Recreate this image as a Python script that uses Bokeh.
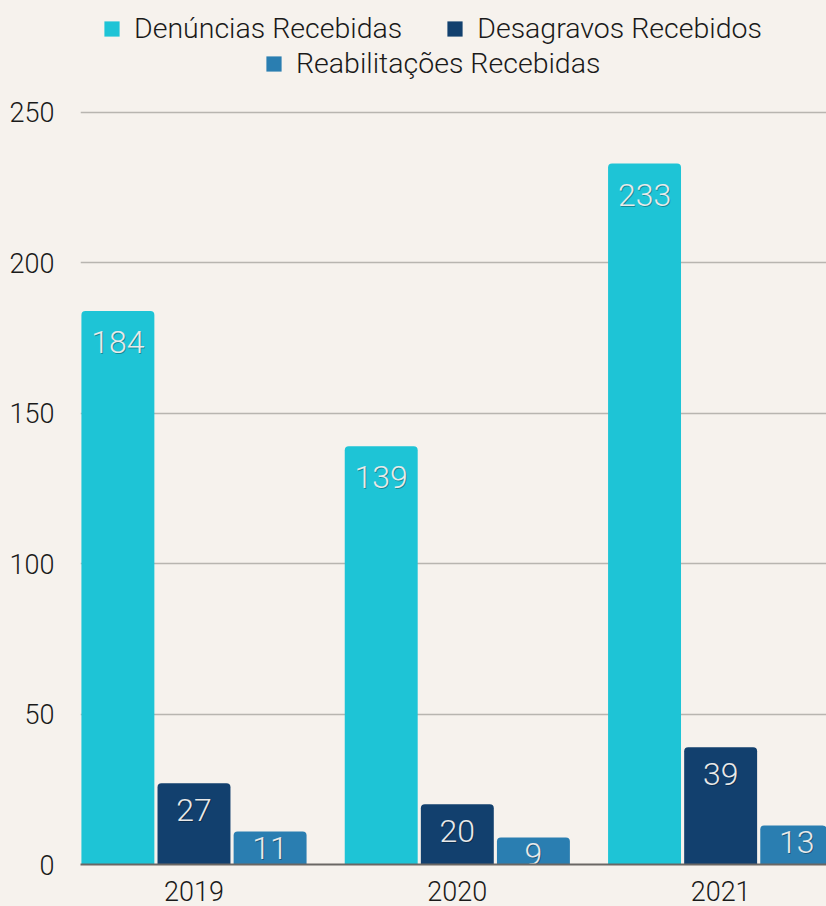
from bokeh.plotting import figure
from bokeh.models import Range1d, FixedTicker, Legend, LegendItem, ColumnDataSource
from bokeh.transform import dodge
from bokeh.embed import file_html
from bokeh.resources import INLINE
from bokeh.core.properties import value

# ---- data ----
years = ["2019", "2020", "2021"]
denuncias = [184, 139, 233]
desagravos = [27, 20, 39]
reabilitacoes = [11, 9, 13]
series_names = ["Denúncias Recebidas", "Desagravos Recebidos", "Reabilitações Recebidas"]
y_ticks = [0, 50, 100, 150, 200, 250]

# ---- style ----
colors = ["#1ec4d6", "#12406e", "#2a7eb1"]
label_offsets = [20, 16, 6]
BG = "#f6f2ed"
FONT = "Roboto Light, Roboto"
offsets = [-0.289, 0.0, 0.289]
bar_w = 0.277

pos = list(range(len(years)))
src = ColumnDataSource(dict(
    x=pos,
    s0=denuncias, s1=desagravos, s2=reabilitacoes,
    t0=[str(v) for v in denuncias],
    t1=[str(v) for v in desagravos],
    t2=[str(v) for v in reabilitacoes],
))

p = figure(width=826, height=906, output_backend="svg", toolbar_location=None,
           x_range=Range1d(-0.431, 2.402), y_range=Range1d(0, 287.2),
           min_border_left=80, min_border_right=0, min_border_top=0,
           min_border_bottom=42)
p.background_fill_color = BG
p.border_fill_color = BG
p.outline_line_color = None

renderers = []
for i in range(3):
    r = p.vbar(x=dodge("x", offsets[i], range=p.x_range), top="s%d" % i,
               width=bar_w, source=src, fill_color=colors[i], line_color=None,
               border_radius=(4, 4, 0, 0))
    renderers.append(r)
    p.text(x=dodge("x", offsets[i], range=p.x_range), y="s%d" % i, text="t%d" % i,
           source=src, text_align="center", text_baseline="top",
           x_offset=1, y_offset=label_offsets[i] + 1, text_font=value(FONT),
           text_font_size="32px", text_color="#000000", text_alpha=0.3)
    p.text(x=dodge("x", offsets[i], range=p.x_range), y="s%d" % i, text="t%d" % i,
           source=src, text_align="center", text_baseline="top",
           y_offset=label_offsets[i], text_font=value(FONT), text_font_size="32px",
           text_color="#e9e9e9")

# axes
p.yaxis.ticker = FixedTicker(ticks=y_ticks)
p.yaxis.axis_line_color = None
p.yaxis.major_tick_line_color = None
p.yaxis.minor_tick_line_color = None
p.yaxis.major_label_standoff = 20
p.yaxis.major_label_text_font = FONT
p.yaxis.major_label_text_font_size = "27px"
p.yaxis.major_label_text_color = "#1a1a1a"

p.xaxis.ticker = FixedTicker(ticks=pos)
p.xaxis.major_label_overrides = {i: y for i, y in zip(pos, years)}
p.xaxis.axis_line_color = "#6a6764"
p.xaxis.axis_line_width = 2
p.xaxis.major_tick_line_color = None
p.xaxis.minor_tick_line_color = None
p.xaxis.major_label_standoff = 10
p.xaxis.major_label_text_font = FONT
p.xaxis.major_label_text_font_size = "27px"
p.xaxis.major_label_text_color = "#1a1a1a"

p.xgrid.grid_line_color = None
p.ygrid.grid_line_color = "#b8b5b0"
p.ygrid.grid_line_width = 1.5

common = dict(orientation="horizontal", label_standoff=13, glyph_width=19,
              glyph_height=19, padding=0, margin=0, border_line_color=None,
              background_fill_alpha=0, label_text_font=FONT,
              label_text_font_size="28.5px", label_text_color="#1a1a1a", spacing=43)
leg1 = Legend(items=[LegendItem(label=series_names[0], renderers=[renderers[0]]),
                     LegendItem(label=series_names[1], renderers=[renderers[1]])],
              location=(22, 819), **common)
leg2 = Legend(items=[LegendItem(label=series_names[2], renderers=[renderers[2]])],
              location=(184, 784), **common)
p.add_layout(leg1)
p.add_layout(leg2)

open("out.html", "w").write(file_html(p, INLINE).replace(
    "<body>", '<body style="margin:0;background:#f6f2ed">'))
